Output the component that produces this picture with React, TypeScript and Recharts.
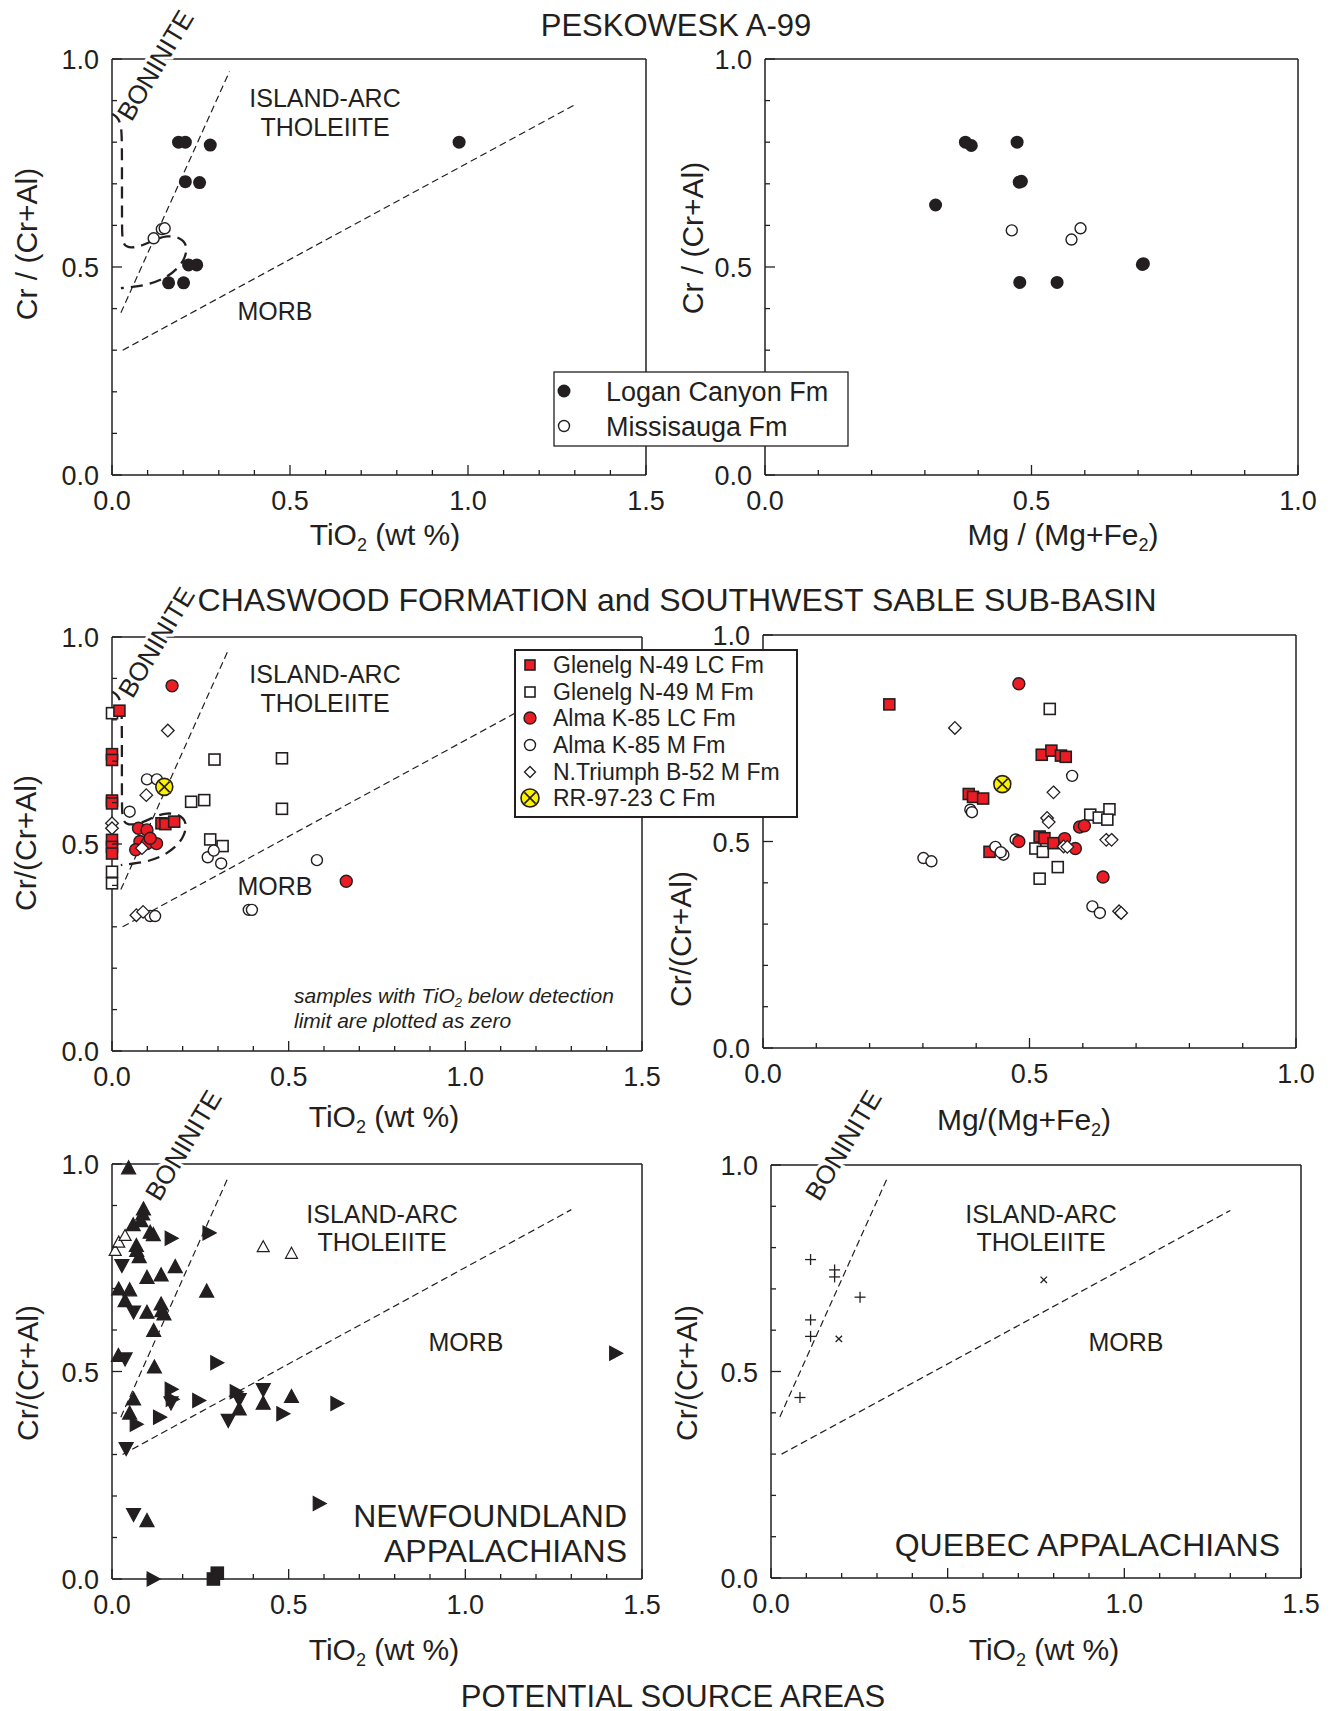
import React from 'react'
import { ScatterChart, Scatter, XAxis, YAxis, ReferenceLine } from 'recharts'

const INK = '#231f20'
const RED = '#ec1c24'
const YELLOW = '#fff200'
const FONT = "'Liberation Sans', Arial, Helvetica, sans-serif"

// axis ticks
const TIO2_TICKS = [0, 0.1, 0.2, 0.3, 0.4, 0.5, 0.6, 0.7, 0.8, 0.9, 1.0, 1.1, 1.2, 1.3, 1.4, 1.5]
const MG_TICKS = [0, 0.1, 0.2, 0.3, 0.4, 0.5, 0.6, 0.7, 0.8, 0.9, 1.0]
const CR_TICKS = [0, 0.1, 0.2, 0.3, 0.4, 0.5, 0.6, 0.7, 0.8, 0.9, 1.0]

// field boundaries on the TiO2 - Cr# diagram
const BONINITE_LINE = [{ x: 0.025, y: 0.39 }, { x: 0.33, y: 0.97 }]
const MORB_LINE = [{ x: 0.03, y: 0.3 }, { x: 1.3, y: 0.89 }]
const BONINITE_FIELD: number[][] = [
  [0, 0.868], [0.013, 0.862], [0.026, 0.845], [0.028, 0.8], [0.028, 0.7], [0.028, 0.6],
  [0.029, 0.56], [0.04, 0.548], [0.06, 0.546], [0.09, 0.553], [0.12, 0.566], [0.155, 0.576],
  [0.192, 0.571], [0.212, 0.552], [0.206, 0.522], [0.185, 0.496], [0.148, 0.472], [0.1, 0.457],
  [0.055, 0.452], [0.025, 0.449],
]

// Peskowesk A-99 : TiO2 vs Cr#
const LOGAN_TI: number[][] = [
  [0.187, 0.8], [0.206, 0.8], [0.276, 0.793], [0.975, 0.8], [0.206, 0.705], [0.246, 0.703],
  [0.215, 0.505], [0.238, 0.505], [0.159, 0.462], [0.201, 0.462],
]
const MISSI_TI: number[][] = [[0.117, 0.569], [0.14, 0.591], [0.148, 0.593]]

// Peskowesk A-99 : Mg# vs Cr#
const LOGAN_MG: number[][] = [
  [0.376, 0.8], [0.387, 0.792], [0.473, 0.8], [0.477, 0.704], [0.481, 0.706], [0.32, 0.649],
  [0.708, 0.506], [0.71, 0.508], [0.478, 0.463], [0.548, 0.463],
]
const MISSI_MG: number[][] = [[0.463, 0.588], [0.575, 0.566], [0.592, 0.593]]

// Chaswood / SW Sable : TiO2 vs Cr#
const GLEN_LC_TI: number[][] = [
  [0.021, 0.822], [0, 0.717], [0, 0.703], [0, 0.605], [0, 0.598], [0, 0.51], [0, 0.493],
  [0, 0.477], [0.14, 0.55], [0.151, 0.548], [0.176, 0.554],
]
const GLEN_M_TI: number[][] = [
  [0, 0.816], [0, 0.433], [0, 0.405], [0.29, 0.704], [0.481, 0.707], [0.481, 0.585],
  [0.224, 0.602], [0.261, 0.606], [0.278, 0.511], [0.313, 0.495],
]
const ALMA_LC_TI: number[][] = [
  [0.17, 0.882], [0.663, 0.41], [0.075, 0.538], [0.099, 0.534], [0.079, 0.506], [0.067, 0.486],
  [0.099, 0.501], [0.126, 0.501], [0.108, 0.514],
]
const ALMA_M_TI: number[][] = [
  [0.099, 0.656], [0.127, 0.656], [0.05, 0.578], [0.271, 0.468], [0.288, 0.484], [0.309, 0.453],
  [0.58, 0.461], [0.387, 0.341], [0.396, 0.341], [0.108, 0.326], [0.122, 0.326], [0.079, 0.49],
]
const TRIUMPH_TI: number[][] = [
  [0.158, 0.774], [0.097, 0.618], [0, 0.55], [0, 0.538], [0.069, 0.328], [0.088, 0.336], [0.085, 0.49],
]
const RR_TI: number[][] = [[0.148, 0.638]]

// Chaswood / SW Sable : Mg# vs Cr#
const GLEN_LC_MG: number[][] = [
  [0.237, 0.832], [0.523, 0.71], [0.541, 0.72], [0.559, 0.708], [0.568, 0.705], [0.386, 0.615],
  [0.394, 0.608], [0.413, 0.604], [0.425, 0.475], [0.519, 0.512], [0.528, 0.508], [0.545, 0.496],
]
const GLEN_M_MG: number[][] = [
  [0.538, 0.821], [0.614, 0.565], [0.63, 0.558], [0.65, 0.578], [0.646, 0.553], [0.511, 0.483],
  [0.525, 0.475], [0.553, 0.438], [0.519, 0.41],
]
const ALMA_LC_MG: number[][] = [
  [0.48, 0.882], [0.594, 0.535], [0.603, 0.538], [0.566, 0.507], [0.586, 0.483], [0.48, 0.5], [0.638, 0.414],
]
const ALMA_M_MG: number[][] = [
  [0.58, 0.659], [0.389, 0.577], [0.392, 0.571], [0.436, 0.487], [0.451, 0.468], [0.446, 0.474],
  [0.301, 0.46], [0.316, 0.452], [0.618, 0.343], [0.632, 0.327], [0.474, 0.505],
]
const TRIUMPH_MG: number[][] = [
  [0.36, 0.775], [0.545, 0.619], [0.533, 0.557], [0.536, 0.547], [0.644, 0.504], [0.654, 0.504],
  [0.564, 0.488], [0.571, 0.487], [0.668, 0.331], [0.672, 0.327],
]
const RR_MG: number[][] = [[0.449, 0.639]]

// Newfoundland Appalachians
const NF_UP: number[][] = [
  [0.047, 0.992], [0.089, 0.893], [0.087, 0.881], [0.082, 0.865], [0.06, 0.855], [0.108, 0.837],
  [0.117, 0.831], [0.069, 0.805], [0.07, 0.793], [0.077, 0.778], [0.179, 0.754], [0.099, 0.728],
  [0.139, 0.734], [0.019, 0.7], [0.05, 0.698], [0.037, 0.672], [0.268, 0.695], [0.099, 0.644],
  [0.139, 0.664], [0.141, 0.648], [0.147, 0.64], [0.118, 0.6], [0.018, 0.54], [0.12, 0.512],
  [0.061, 0.435], [0.05, 0.401], [0.36, 0.411], [0.428, 0.425], [0.508, 0.441], [0.099, 0.142],
]
const NF_DOWN: number[][] = [
  [0.028, 0.754], [0.061, 0.642], [0.037, 0.529], [0.167, 0.423], [0.36, 0.431], [0.428, 0.455],
  [0.329, 0.381], [0.04, 0.313], [0.061, 0.154],
]
const NF_RIGHT: number[][] = [
  [0.169, 0.821], [0.276, 0.834], [0.298, 0.521], [0.169, 0.457], [0.172, 0.433], [0.247, 0.43],
  [0.353, 0.451], [0.485, 0.398], [0.638, 0.423], [0.136, 0.39], [0.07, 0.373], [1.427, 0.544],
  [0.588, 0.182], [0.118, 0.0],
]
const NF_OPEN: number[][] = [[0.009, 0.793], [0.019, 0.813], [0.037, 0.829], [0.428, 0.802], [0.508, 0.786]]
const NF_SQUARE: number[][] = [[0.287, 0.0], [0.298, 0.014]]

// Quebec Appalachians
const QC_PLUS: number[][] = [
  [0.112, 0.771], [0.18, 0.746], [0.18, 0.729], [0.252, 0.68], [0.112, 0.625], [0.112, 0.585], [0.082, 0.437],
]
const QC_CROSS: number[][] = [[0.772, 0.722], [0.192, 0.579]]

const pts = (a: number[][]) => a.map(([x, y]) => ({ x, y }))

// ---------- marker shapes ----------
const dot = (r: number, fill: string, stroke = INK, sw = 1.4) => (p: any) => (
  <circle cx={p.cx} cy={p.cy} r={r} fill={fill} stroke={stroke} strokeWidth={sw} />
)
const square = (s: number, fill: string) => (p: any) => (
  <rect x={p.cx - s / 2} y={p.cy - s / 2} width={s} height={s} fill={fill} stroke={INK} strokeWidth={1.6} />
)
const diamond = (s: number) => (p: any) => (
  <polygon
    points={`${p.cx},${p.cy - s} ${p.cx + s},${p.cy} ${p.cx},${p.cy + s} ${p.cx - s},${p.cy}`}
    fill="#fff" stroke={INK} strokeWidth={1.3}
  />
)
const tri = (dir: 'up' | 'down' | 'right', fill: string, w = 14, h = 13) => (p: any) => {
  const { cx, cy } = p
  let d = ''
  if (dir === 'up') d = `${cx},${cy - h / 2} ${cx + w / 2},${cy + h / 2} ${cx - w / 2},${cy + h / 2}`
  if (dir === 'down') d = `${cx},${cy + h / 2} ${cx + w / 2},${cy - h / 2} ${cx - w / 2},${cy - h / 2}`
  if (dir === 'right') d = `${cx + h / 2},${cy} ${cx - h / 2},${cy - w / 2} ${cx - h / 2},${cy + w / 2}`
  return <polygon points={d} fill={fill} stroke={INK} strokeWidth={1.2} />
}
const plus = (s: number) => (p: any) => (
  <g stroke={INK} strokeWidth={1.3}>
    <line x1={p.cx - s} x2={p.cx + s} y1={p.cy} y2={p.cy} />
    <line x1={p.cx} x2={p.cx} y1={p.cy - s} y2={p.cy + s} />
  </g>
)
const cross = (s: number) => (p: any) => (
  <g stroke={INK} strokeWidth={1.3}>
    <line x1={p.cx - s} x2={p.cx + s} y1={p.cy - s} y2={p.cy + s} />
    <line x1={p.cx - s} x2={p.cx + s} y1={p.cy + s} y2={p.cy - s} />
  </g>
)
const xCircle = (r: number) => (p: any) => {
  const k = r * 0.62
  return (
    <g>
      <circle cx={p.cx} cy={p.cy} r={r} fill={YELLOW} stroke={INK} strokeWidth={1.6} />
      <line x1={p.cx - k} x2={p.cx + k} y1={p.cy - k} y2={p.cy + k} stroke={INK} strokeWidth={1.6} />
      <line x1={p.cx - k} x2={p.cx + k} y1={p.cy + k} y2={p.cy - k} stroke={INK} strokeWidth={1.6} />
    </g>
  )
}
const noShape = () => <g />

// ---------- ticks (drawn inward, labels only on the 0.5 steps) ----------
const MAJ = 10
const MIN = 5
const isMajor = (v: number) => Math.abs(v * 2 - Math.round(v * 2)) < 1e-6
const TICK_FONT = 27

const BottomTick = (p: any) => {
  const v = p.payload.value
  const m = isMajor(v)
  return (
    <g>
      <line x1={p.x} x2={p.x} y1={p.y} y2={p.y - (m ? MAJ : MIN)} stroke={INK} strokeWidth={1.3} />
      {m && (
        <text x={p.x} y={p.y + 35} textAnchor="middle" fontSize={TICK_FONT} fill={INK}>
          {v.toFixed(1)}
        </text>
      )}
    </g>
  )
}
const TopTick = (p: any) => {
  const m = isMajor(p.payload.value)
  return <line x1={p.x} x2={p.x} y1={p.y} y2={p.y + (m ? MAJ : MIN)} stroke={INK} strokeWidth={1.3} />
}
const LeftTick = (p: any) => {
  const v = p.payload.value
  const m = isMajor(v)
  return (
    <g>
      <line x1={p.x} x2={p.x + (m ? MAJ : MIN)} y1={p.y} y2={p.y} stroke={INK} strokeWidth={1.3} />
      {m && (
        <text x={p.x - 13} y={p.y + 10} textAnchor="end" fontSize={TICK_FONT} fill={INK}>
          {v.toFixed(1)}
        </text>
      )}
    </g>
  )
}
const RightTick = (p: any) => {
  const m = isMajor(p.payload.value)
  return <line x1={p.x} x2={p.x - (m ? MAJ : MIN)} y1={p.y} y2={p.y} stroke={INK} strokeWidth={1.3} />
}

type Rect = { l: number; t: number; w: number; h: number }
const PAD = { l: 90, t: 20, r: 30, b: 50 }
const AXIS_LINE = { stroke: INK, strokeWidth: 1.5 }

function Panel({ rect, xMax, children }: { rect: Rect; xMax: number; children: React.ReactNode }) {
  const xTicks = xMax > 1 ? TIO2_TICKS : MG_TICKS
  return (
    <div style={{ position: 'absolute', left: rect.l - PAD.l, top: rect.t - PAD.t }}>
      <ScatterChart
        width={rect.w + PAD.l + PAD.r}
        height={rect.h + PAD.t + PAD.b}
        margin={{ top: PAD.t - 1, right: PAD.r - 1, bottom: 0, left: 0 }}
      >
        <XAxis type="number" dataKey="x" domain={[0, xMax]} ticks={xTicks} interval={0} height={PAD.b}
          tickSize={0} tickMargin={0} tickLine={false} axisLine={AXIS_LINE} tick={BottomTick} />
        <XAxis xAxisId="top" orientation="top" type="number" domain={[0, xMax]} ticks={xTicks} interval={0}
          height={1} tickSize={0} tickMargin={0} tickLine={false} axisLine={AXIS_LINE} tick={TopTick} />
        <YAxis type="number" dataKey="y" domain={[0, 1]} ticks={CR_TICKS} interval={0} width={PAD.l}
          tickSize={0} tickMargin={0} tickLine={false} axisLine={AXIS_LINE} tick={LeftTick} />
        <YAxis yAxisId="right" orientation="right" type="number" domain={[0, 1]} ticks={CR_TICKS} interval={0}
          width={1} tickSize={0} tickMargin={0} tickLine={false} axisLine={AXIS_LINE} tick={RightTick} />
        {children}
      </ScatterChart>
    </div>
  )
}

const fieldLines = (withField: boolean) => [
  withField ? (
    <Scatter key="field" data={pts(BONINITE_FIELD)} shape={noShape} isAnimationActive={false}
      line={{ stroke: INK, strokeWidth: 2.3, strokeDasharray: '12 7', fill: 'none' }} lineJointType="basis" />
  ) : null,
  <ReferenceLine key="bon" segment={BONINITE_LINE} stroke={INK} strokeWidth={1.2} strokeDasharray="7 4" />,
  <ReferenceLine key="morb" segment={MORB_LINE} stroke={INK} strokeWidth={1.2} strokeDasharray="7 4" />,
]

// ---------- overlay text ----------
function T({ x, y, size, anchor = 'middle', rot = 0, italic = false, halo = false, children }: any) {
  return (
    <text
      transform={`translate(${x} ${y}) rotate(${rot})`}
      fontSize={size}
      textAnchor={anchor}
      fill={INK}
      fontStyle={italic ? 'italic' : 'normal'}
      stroke={halo ? '#fff' : 'none'}
      strokeWidth={halo ? 6 : 0}
      style={{ paintOrder: 'stroke' }}
    >
      {children}
    </text>
  )
}

const AX = 30
const REG = 25
const SUB_DY = 6

// "TiO2 (wt %)" style title with a subscript 2
function SubTitle({ x, y, size, before, after }: any) {
  return (
    <T x={x} y={y} size={size}>
      {before}
      <tspan fontSize={size * 0.6} dy={SUB_DY}>2</tspan>
      <tspan dy={-SUB_DY}>{after}</tspan>
    </T>
  )
}

function Overlay() {
  return (
    <svg width={1331} height={1711} style={{ position: 'absolute', left: 0, top: 0, pointerEvents: 'none' }}>
      {/* section titles */}
      <T x={676} y={36} size={31}>PESKOWESK A-99</T>
      <T x={677} y={611} size={32}>CHASWOOD FORMATION and SOUTHWEST SABLE SUB-BASIN</T>
      <T x={673} y={1707} size={31}>POTENTIAL SOURCE AREAS</T>

      {/* axis titles */}
      <SubTitle x={385} y={545} size={AX} before="TiO" after=" (wt %)" />
      <SubTitle x={1063} y={545} size={AX} before="Mg / (Mg+Fe" after=")" />
      <SubTitle x={384} y={1127} size={AX} before="TiO" after=" (wt %)" />
      <SubTitle x={1024} y={1130} size={AX} before="Mg/(Mg+Fe" after=")" />
      <SubTitle x={384} y={1660} size={AX} before="TiO" after=" (wt %)" />
      <SubTitle x={1044} y={1660} size={AX} before="TiO" after=" (wt %)" />
      <T x={37} y={244} size={AX} rot={-90}>Cr / (Cr+Al)</T>
      <T x={703} y={238} size={AX} rot={-90}>Cr / (Cr+Al)</T>
      <T x={36} y={843} size={AX} rot={-90}>Cr/(Cr+Al)</T>
      <T x={691} y={939} size={AX} rot={-90}>Cr/(Cr+Al)</T>
      <T x={38} y={1373} size={AX} rot={-90}>Cr/(Cr+Al)</T>
      <T x={697} y={1373} size={AX} rot={-90}>Cr/(Cr+Al)</T>

      {/* field names */}
      <T x={163} y={70} size={26} rot={-59} halo>BONINITE</T>
      <T x={164} y={647} size={26} rot={-59} halo>BONINITE</T>
      <T x={191} y={1150} size={26} rot={-59} halo>BONINITE</T>
      <T x={851} y={1150} size={26} rot={-59} halo>BONINITE</T>
      <T x={325} y={107} size={REG}>ISLAND-ARC</T>
      <T x={325} y={136} size={REG}>THOLEIITE</T>
      <T x={275} y={320} size={REG}>MORB</T>
      <T x={325} y={683} size={REG}>ISLAND-ARC</T>
      <T x={325} y={712} size={REG}>THOLEIITE</T>
      <T x={275} y={895} size={REG}>MORB</T>
      <T x={382} y={1223} size={REG}>ISLAND-ARC</T>
      <T x={382} y={1251} size={REG}>THOLEIITE</T>
      <T x={466} y={1351} size={REG}>MORB</T>
      <T x={1041} y={1223} size={REG}>ISLAND-ARC</T>
      <T x={1041} y={1251} size={REG}>THOLEIITE</T>
      <T x={1126} y={1351} size={REG}>MORB</T>

      <T x={294} y={1003} size={21} anchor="start" italic>
        samples with TiO
        <tspan fontSize={13} dy={4}>2</tspan>
        <tspan dy={-4}> below detection</tspan>
      </T>
      <T x={294} y={1028} size={21} anchor="start" italic>limit are plotted as zero</T>

      <T x={627} y={1527} size={32} anchor="end">NEWFOUNDLAND</T>
      <T x={627} y={1562} size={32} anchor="end">APPALACHIANS</T>
      <T x={1280} y={1556} size={32} anchor="end">QUEBEC APPALACHIANS</T>

      {/* legend, Peskowesk */}
      <rect x={554} y={372} width={294} height={74} fill="#fff" stroke={INK} strokeWidth={1.3} />
      {dot(6.5, INK, 'none', 0)({ cx: 564, cy: 391 })}
      {dot(5.5, '#fff')({ cx: 564, cy: 426 })}
      <T x={606} y={401} size={27} anchor="start">Logan Canyon Fm</T>
      <T x={606} y={436} size={27} anchor="start">Missisauga Fm</T>

      {/* legend, Chaswood */}
      <rect x={515} y={650} width={282} height={167} fill="#fff" stroke={INK} strokeWidth={2} />
      {square(10, RED)({ cx: 530, cy: 665 })}
      {square(10, '#fff')({ cx: 530, cy: 692 })}
      {dot(6, RED)({ cx: 530, cy: 718 })}
      {dot(5.5, '#fff')({ cx: 530, cy: 745 })}
      {diamond(5.5)({ cx: 530, cy: 772 })}
      {xCircle(9)({ cx: 530, cy: 798 })}
      <T x={553} y={673} size={23} anchor="start">Glenelg N-49 LC Fm</T>
      <T x={553} y={700} size={23} anchor="start">Glenelg N-49 M Fm</T>
      <T x={553} y={726} size={23} anchor="start">Alma K-85 LC Fm</T>
      <T x={553} y={753} size={23} anchor="start">Alma K-85 M Fm</T>
      <T x={553} y={780} size={23} anchor="start">N.Triumph B-52 M Fm</T>
      <T x={553} y={806} size={23} anchor="start">RR-97-23 C Fm</T>
    </svg>
  )
}

const S = (data: number[][], shape: any, key: string) => (
  <Scatter key={key} data={pts(data)} shape={shape} isAnimationActive={false} />
)

export default function App() {
  return (
    <div style={{ position: 'absolute', left: 0, top: 0, width: 1331, height: 1711, background: '#fff', fontFamily: FONT, overflow: 'hidden' }}>
      <Panel rect={{ l: 112, t: 59, w: 534, h: 416 }} xMax={1.5}>
        {fieldLines(true)}
        {S(LOGAN_TI, dot(6.5, INK, 'none', 0), 'logan')}
        {S(MISSI_TI, dot(5.5, '#fff'), 'missi')}
      </Panel>
      <Panel rect={{ l: 765, t: 59, w: 533, h: 416 }} xMax={1}>
        {S(LOGAN_MG, dot(6.5, INK, 'none', 0), 'logan')}
        {S(MISSI_MG, dot(5.5, '#fff'), 'missi')}
      </Panel>

      <Panel rect={{ l: 112, t: 637, w: 530, h: 414 }} xMax={1.5}>
        {fieldLines(true)}
        {S(GLEN_M_TI, square(11, '#fff'), 'gm')}
        {S(GLEN_LC_TI, square(11, RED), 'glc')}
        {S(ALMA_M_TI, dot(5.5, '#fff'), 'am')}
        {S(ALMA_LC_TI, dot(6, RED), 'alc')}
        {S(TRIUMPH_TI, diamond(6.3), 'nt')}
        {S(RR_TI, xCircle(8.5), 'rr')}
      </Panel>
      <Panel rect={{ l: 763, t: 635, w: 533, h: 413 }} xMax={1}>
        {S(GLEN_M_MG, square(11, '#fff'), 'gm')}
        {S(GLEN_LC_MG, square(11, RED), 'glc')}
        {S(ALMA_M_MG, dot(5.5, '#fff'), 'am')}
        {S(ALMA_LC_MG, dot(6, RED), 'alc')}
        {S(TRIUMPH_MG, diamond(6.3), 'nt')}
        {S(RR_MG, xCircle(8.5), 'rr')}
      </Panel>

      <Panel rect={{ l: 112, t: 1164, w: 530, h: 415 }} xMax={1.5}>
        {fieldLines(false)}
        {S(NF_OPEN, tri('up', '#fff', 12, 11), 'open')}
        {S(NF_UP, tri('up', INK), 'up')}
        {S(NF_DOWN, tri('down', INK), 'down')}
        {S(NF_RIGHT, tri('right', INK), 'right')}
        {S(NF_SQUARE, square(12, INK), 'sq')}
      </Panel>
      <Panel rect={{ l: 771, t: 1165, w: 530, h: 413 }} xMax={1.5}>
        {fieldLines(false)}
        {S(QC_PLUS, plus(5.5), 'plus')}
        {S(QC_CROSS, cross(3.2), 'cross')}
      </Panel>

      <Overlay />
    </div>
  )
}
